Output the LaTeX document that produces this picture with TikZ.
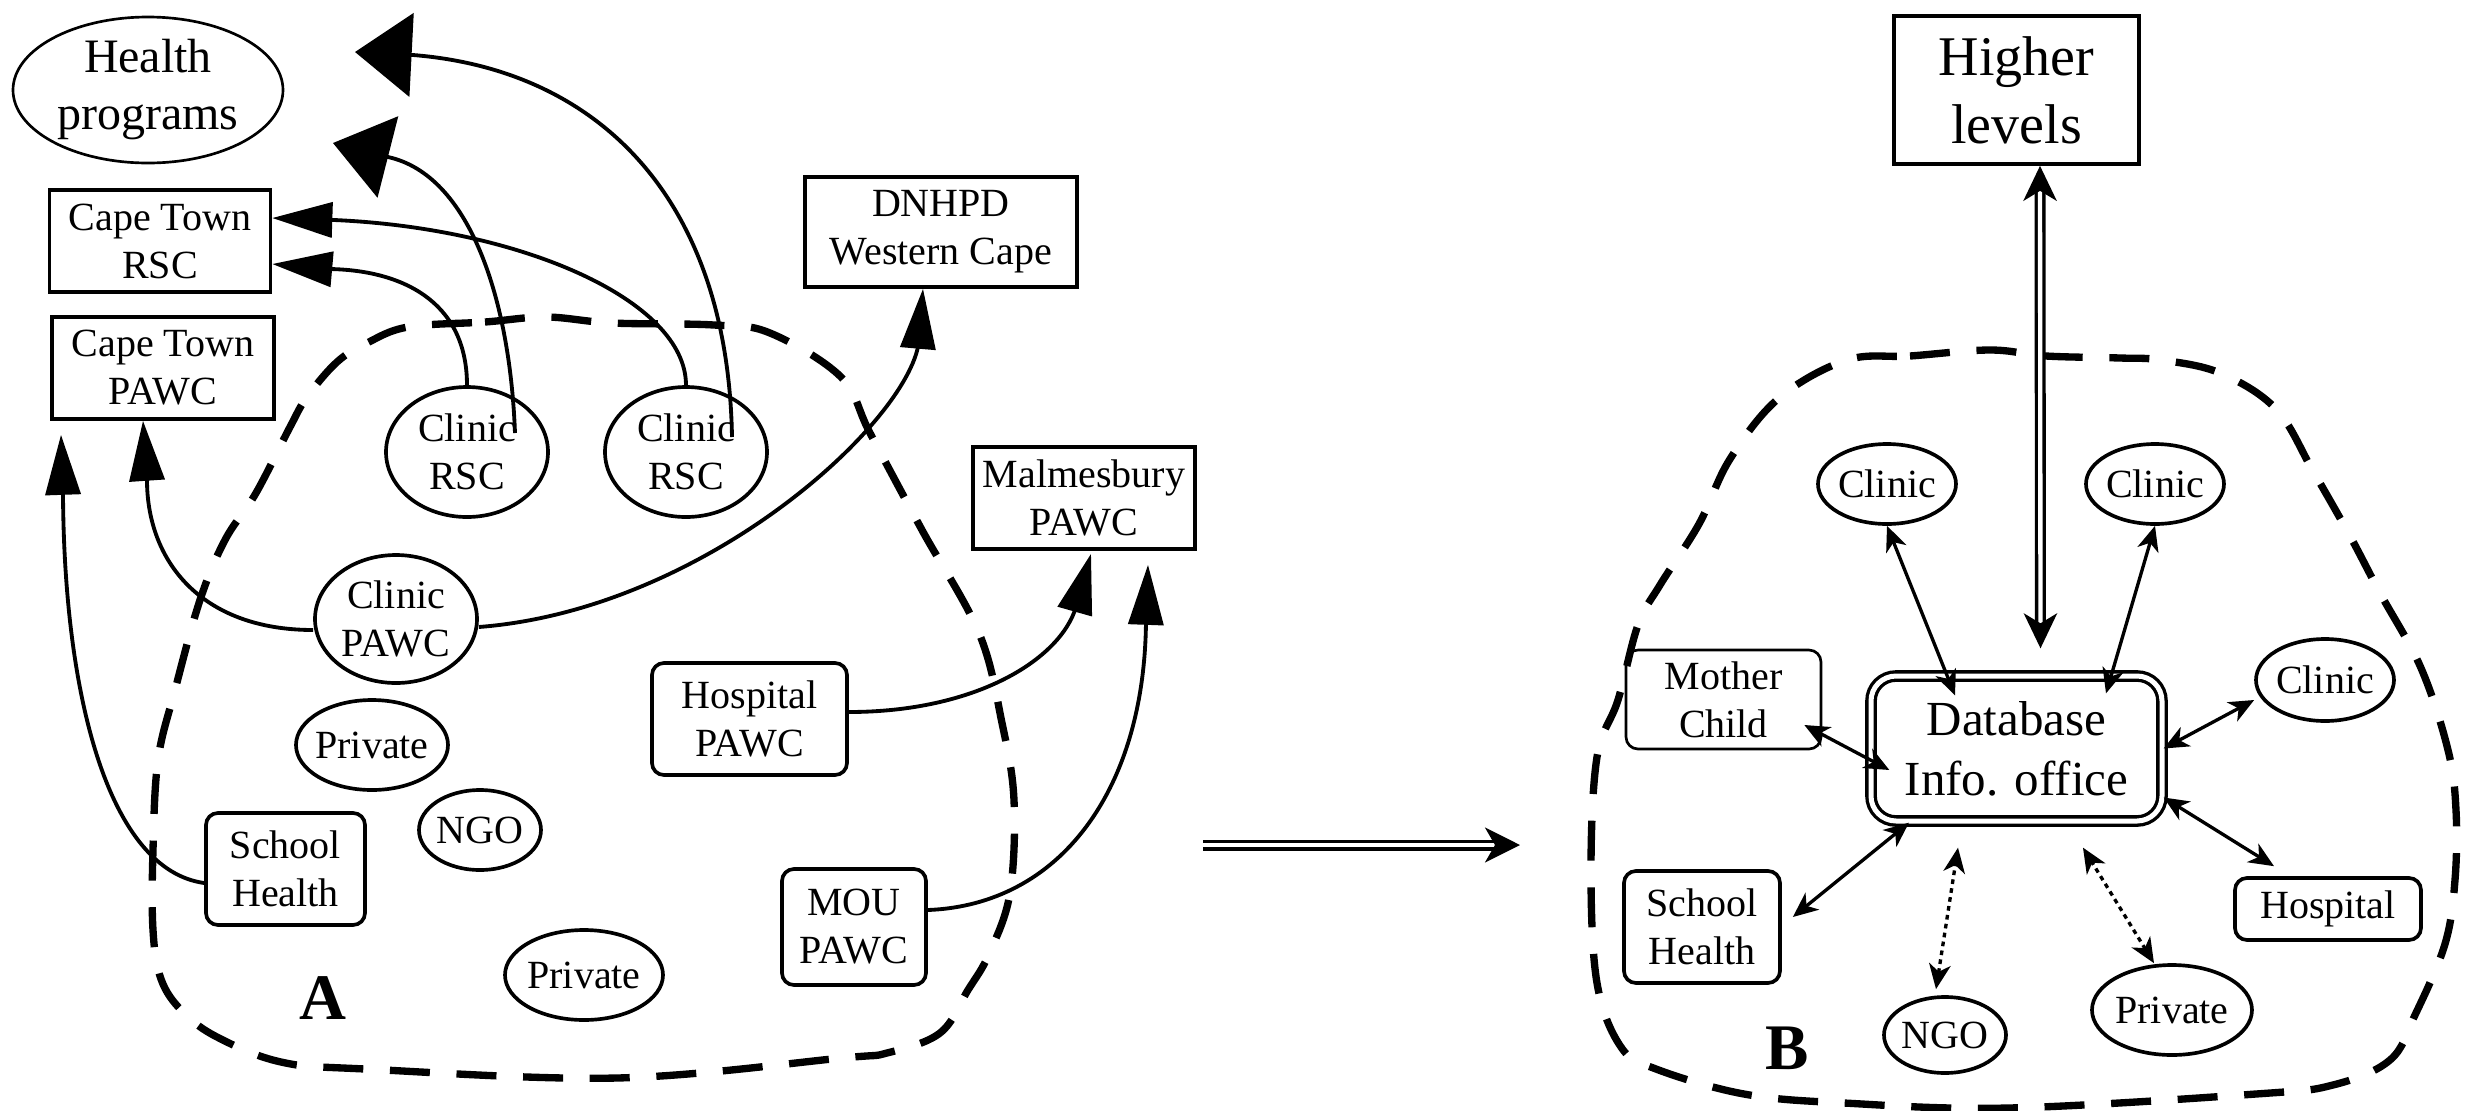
\documentclass[tikz,border=0pt]{standalone}
\usepackage{fontspec}
\setmainfont{Liberation Serif}
\usetikzlibrary{shapes.geometric, arrows.meta}

\begin{document}
\begin{tikzpicture}[x=0.3pt, y=-0.3pt,
  every node/.style={inner sep=0pt, align=center, font=\fontsize{12}{14.4}\selectfont},
  sq/.style={draw, line width=1.1pt, rectangle},
  rbox/.style={draw, line width=1.1pt, rectangle, rounded corners=3.6pt},
  oval/.style={draw, line width=1.1pt, ellipse, inner xsep=-4pt, inner ysep=-2pt},
  link/.style={line width=1.15pt},
  tri/.style={link, -{Triangle[length=18pt,width=10.5pt]}},
  bigtri/.style={link, -{Triangle[length=17pt,width=25pt]}},
  rel/.style={line width=1pt, {Stealth[length=7.5pt,width=6.5pt,inset=2.2pt]}-{Stealth[length=7.5pt,width=6.5pt,inset=2.2pt]}},
  weak/.style={rel, dash pattern=on 1.4pt off 1.3pt},
  dbl/.style={double, double distance=1.3pt, line width=1pt},
  region/.style={line width=2.2pt, dash pattern=on 12pt off 8pt},
  panel/.style={font=\fontsize{19.5}{20}\selectfont\bfseries}
]
\useasboundingbox (0,0) rectangle (2473,1111);

% ---------------- left: current situation ----------------
\draw[region] plot[smooth cycle, tension=0.6] coordinates {
  (408,327) (485,322) (546,317) (612,323) (714,325) (770,333) (841,377)
  (870,433) (922,530) (979,633) (1002,723) (1014,800) (1010,893) (989,954)
  (968,990) (940,1033) (887,1053) (842,1058) (617,1078) (365,1069) (281,1062)
  (217,1037) (182,1011) (161,979) (153,930) (153,850) (158,760) (175,690)
  (200,600) (225,540) (256,493) (290,427) (307,397) (337,362) (367,343)};

\node[oval, line width=0.8pt, minimum width=81pt, minimum height=43.8pt,
      font=\fontsize{14.4}{17.1}\selectfont] (hp) at (148,90) {Health\\programs};
\node[sq, minimum width=66.3pt, minimum height=30.6pt] (ctrsc) at (160,241) {Cape Town\\RSC};
\node[sq, minimum width=66.6pt, minimum height=30.6pt] (ctpawc) at (163,368) {Cape Town\\PAWC};
\node[sq, minimum width=81.6pt, minimum height=33pt] (dnhpd) at (941,232) {DNHPD\\Western Cape};
\node[sq, minimum width=66.6pt, minimum height=30.6pt] (malm) at (1084,498) {Malmesbury\\PAWC};
\node[oval, minimum width=48.6pt, minimum height=39pt] (crsc1) at (467,452) {Clinic\\RSC};
\node[oval, minimum width=48.6pt, minimum height=39pt] (crsc2) at (686,452) {Clinic\\RSC};
\node[oval, minimum width=48.6pt, minimum height=38.4pt] (cpawc) at (396,619) {Clinic\\PAWC};
\node[oval, minimum width=45.6pt, minimum height=27pt] (priv1) at (372,745) {Private};
\node[oval, minimum width=36.6pt, minimum height=24pt] (ngo1) at (480,830) {NGO};
\node[oval, minimum width=47.4pt, minimum height=27pt] (priv2) at (584,975) {Private};
\node[rbox, minimum width=47.7pt, minimum height=33.6pt] (school1) at (285.5,869) {School\\Health};
\node[rbox, minimum width=58.5pt, minimum height=33.6pt] (hosp1) at (749.5,719) {Hospital\\PAWC};
\node[rbox, minimum width=43.2pt, minimum height=34.8pt] (mou) at (854,927) {MOU\\PAWC};
\node[panel] (lblA) at (323,998) {A};

\coordinate (upA) at (355,52);
\coordinate (upB) at (333,143);

\draw[tri] (crsc1.north) .. controls (467,300) and (400,270) .. (329,269)
  -- ([yshift=-6.9pt]ctrsc.east);
\draw[tri] (crsc2.north) .. controls (686,300) and (520,228) .. (334,220)
  -- ([yshift=6.9pt]ctrsc.east);
\draw[bigtri] ([xshift=14.4pt,yshift=5.7pt]crsc1.center) .. controls (510,300) and (470,175) .. (388,157)
  -- (upB);
\draw[bigtri] ([xshift=13.8pt,yshift=4.5pt]crsc2.center) .. controls (728,200) and (600,70) .. (413,55)
  -- (upA);
\draw[tri] ([yshift=-3.3pt]cpawc.west) .. controls (200,630) and (147,560) .. (147,480)
  -- ([xshift=-6pt]ctpawc.south);
\draw[tri] ([yshift=-2.4pt]cpawc.east) .. controls (700,610) and (900,430) .. (918,347)
  -- ([xshift=-5.4pt]dnhpd.south);
\draw[tri] ([yshift=-4.2pt]school1.west) .. controls (110,870) and (64,700) .. (63,493)
  -- ([xshift=-30.6pt,yshift=-4.2pt]ctpawc.south);
\draw[tri] ([yshift=2.1pt]hosp1.east) .. controls (975,712) and (1060,660) .. (1076,607)
  -- ([xshift=2.1pt,yshift=-0.9pt]malm.south);
\draw[tri] ([yshift=5.1pt]mou.east) .. controls (1060,905) and (1145,790) .. (1146,620)
  -- ([xshift=19.2pt,yshift=-4.2pt]malm.south);

% ---------------- transition ----------------
\coordinate (ms) at (1203,845);
\coordinate (me) at (1520,845);
\draw[dbl, -{Stealth[length=10.5pt,width=10.5pt,inset=3pt]}] (ms) -- (me);

% ---------------- right: proposed situation ----------------
\draw[region] plot[smooth cycle, tension=0.6] coordinates {
  (1847,360) (1910,356) (1990,350) (2046,356) (2120,358) (2161,360) (2220,373)
  (2276,409) (2313,471) (2350,536) (2380,593) (2421,668) (2448,750) (2456,810)
  (2455,880) (2445,944) (2415,1015) (2390,1060) (2333,1085) (2256,1094)
  (2009,1108) (1844,1103) (1744,1094) (1656,1069) (1621,1047) (1597,983)
  (1591,870) (1597,757) (1618,700) (1638,625) (1660,585) (1699,524) (1730,459)
  (1779,398)};

\node[sq, minimum width=73.5pt, minimum height=44.4pt,
      font=\fontsize{16.8}{20.4}\selectfont] (higher) at (2016.5,90) {Higher\\levels};
\node[draw, double, double distance=1.5pt, line width=1pt, rounded corners=7.5pt,
      minimum width=87.3pt, minimum height=43.5pt,
      font=\fontsize{14.7}{18}\selectfont] (db) at (2016.5,748.5) {Database\\Info. office};
\node[rbox, line width=0.8pt, minimum width=58.5pt, minimum height=29.7pt] (mc) at (1723.5,699.5) {Mother\\Child};
\node[oval, minimum width=41.4pt, minimum height=24pt] (cl1) at (1887,484) {Clinic};
\node[oval, minimum width=41.4pt, minimum height=24pt] (cl2) at (2155,484) {Clinic};
\node[oval, minimum width=41.4pt, minimum height=24.6pt] (cl3) at (2325,680) {Clinic};
\node[rbox, minimum width=55.8pt, minimum height=18.6pt] (hosp2) at (2328,909) {Hospital};
\node[rbox, minimum width=46.8pt, minimum height=33.6pt] (school2) at (1702,927) {School\\Health};
\node[oval, minimum width=36.6pt, minimum height=22.8pt] (ngo2) at (1945,1035) {NGO};
\node[oval, minimum width=48pt, minimum height=27pt] (priv3) at (2172,1010) {Private};
\node[panel] (lblB) at (1787,1048) {B};

\draw[dbl, {Stealth[length=10.5pt,width=10pt,inset=3pt]}-{Stealth[length=10.5pt,width=10pt,inset=3pt]}]
  ([xshift=7.05pt]higher.south) -- ([xshift=7.2pt,yshift=7.8pt]db.north);
\draw[rel] (cl1.south) -- ([xshift=-18.45pt,yshift=-6.3pt]db.north);
\draw[rel] (cl2.south) -- ([xshift=26.85pt,yshift=-5.7pt]db.north);
\draw[rel] ([xshift=-5.4pt,yshift=-7.65pt]mc.east) -- ([xshift=6pt,yshift=-6.45pt]db.west);
\draw[rel] ([yshift=-6pt]cl3.west) -- (db.east);
\draw[rel] ([xshift=-16.2pt,yshift=3pt]hosp2.north) -- ([yshift=-14.7pt]db.east);
\draw[rel] ([xshift=3.3pt,yshift=3pt]school2.east) -- ([xshift=-32.25pt]db.south);
\draw[weak] ([xshift=-2.7pt,yshift=1.8pt]ngo2.north) -- ([xshift=-17.55pt,yshift=-7.5pt]db.south);
\draw[weak] ([xshift=-5.4pt]priv3.north) -- ([xshift=19.95pt,yshift=-7.5pt]db.south);

\end{tikzpicture}
\end{document}
